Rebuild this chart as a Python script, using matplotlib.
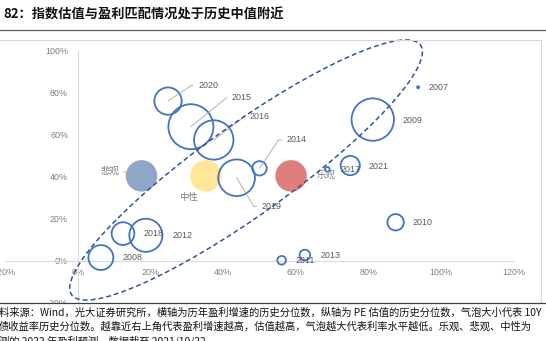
import matplotlib
matplotlib.use("Agg")
import matplotlib.pyplot as plt
from matplotlib.patches import Ellipse, Rectangle
from matplotlib.lines import Line2D
from matplotlib.transforms import IdentityTransform

plt.rcParams['font.family'] = ['Liberation Sans', 'Noto Sans CJK SC', 'DejaVu Sans']

# data (historical percentiles, %)
years = ['2007', '2008', '2009', '2010', '2011', '2012', '2013', '2014',
         '2015', '2016', '2017', '2018', '2019', '2020', '2021']
earn_pct = [93.7, 6.3, 81.2, 87.5, 56.1, 18.7, 62.5, 50.0,
            31.1, 37.4, 68.7, 12.4, 43.7, 24.8, 75.0]
pe_pct = [82.6, 1.5, 67.2, 18.3, 0.2, 12.1, 2.7, 44.0,
          63.8, 57.5, 43.5, 12.9, 39.5, 76.0, 45.3]
rate_pct = [0.2, 30, 87, 13, 3.6, 53, 5.5, 10,
            98, 75, 1, 25, 65, 36, 18]

scenarios = ['悲观', '中性', '乐观']
scen_x = [17.5, 35.2, 58.7]
scen_y = [40.4, 40.4, 40.4]
scen_size = [48, 48, 48]
scen_colors = ['#8FA6C8', '#FFE699', '#E07D7D']

xticks = [-20, 0, 20, 40, 60, 80, 100, 120]
yticks = [-20, 0, 20, 40, 60, 80, 100]

title = '82：指数估值与盈利匹配情况处于历史中值附近'
caption = ['料来源：Wind，光大证券研究所，横轴为历年盈利增速的历史分位数，纵轴为 PE 估值的历史分位数，气泡大小代表 10Y',
           '债收益率历史分位数。越靠近右上角代表盈利增速越高，估值越高，气泡越大代表利率水平越低。乐观、悲观、中性为',
           '测的 2022 年盈利预测，数据截至 2021/10/22']

W, H = 546, 341


def bubble_area(v):
    # bubble area proportional to value, largest bubble ~45px across
    return v / 98.0 * (2 * 22.5 * 0.72) ** 2


fig = plt.figure(figsize=(W / 100, H / 100), dpi=100)
ax = fig.add_axes([5.4 / W, 1 - 302.7 / H, 508.2 / W, 252 / H])
ax.set_xlim(-20, 120)
ax.set_ylim(-20, 100)

ax.spines['top'].set_visible(False)
ax.spines['right'].set_visible(False)
ax.spines['left'].set_position(('data', 0))
ax.spines['bottom'].set_position(('data', 0))
for s in ['left', 'bottom']:
    ax.spines[s].set_color('#d9d9d9')
    ax.spines[s].set_linewidth(0.8)
ax.set_xticks(xticks)
ax.set_xticklabels([f'{t}%' for t in xticks])
ax.set_yticks(yticks)
ax.set_yticklabels([f'{t}%' for t in yticks])
ax.tick_params(axis='both', length=0, labelsize=6.4, labelcolor='#7f7f7f')
ax.tick_params(axis='y', pad=7.2)
ax.tick_params(axis='x', pad=5)

# scenario bubbles (filled)
ax.scatter(scen_x, scen_y, s=[bubble_area(v) for v in scen_size],
           c=scen_colors, edgecolors='none', zorder=2, clip_on=False)
# historical bubbles (outline only)
ax.scatter(earn_pct, pe_pct, s=[bubble_area(v) for v in rate_pct],
           facecolors='none', edgecolors='#4472C4', linewidths=1.3, zorder=3, clip_on=False)

# label offsets in points; leader angle where Excel drew a leader line
offsets = {
    '2007': (7.7, 0), '2008': (15.3, 0), '2009': (21.7, -0.4), '2010': (12.5, -0.3),
    '2011': (10.3, 0), '2012': (18.9, 0), '2013': (11, -0.5), '2017': (9.1, 0),
    '2018': (15.1, -0.2), '2021': (13.5, -0.4),
    '2020': (21.6, 11.5), '2015': (29.5, 20.7), '2016': (26.1, 16.6),
    '2014': (19.6, 20.4), '2019': (18.0, -20.7),
}
leaders = {'2020': 34, '2015': 39, '2016': 37, '2014': 56, '2019': -59}

for name, x, y in zip(years, earn_pct, pe_pct):
    dx, dy = offsets[name]
    kw = {}
    if name in leaders:
        kw['arrowprops'] = dict(arrowstyle='-', color='#a6a6a6', lw=0.6,
                                shrinkA=1.5, shrinkB=0, relpos=(0, 0.5),
                                connectionstyle=f'angle,angleA=0,angleB={leaders[name]},rad=0')
    ax.annotate(name, xy=(x, y), xytext=(dx, dy), textcoords='offset points',
                ha='left', va='center', fontsize=6.4, color='#595959',
                zorder=5, annotation_clip=False, **kw)

cjk = ['Noto Sans CJK SC', 'DejaVu Sans']
ax.annotate(scenarios[0], xy=(scen_x[0], scen_y[0]), xytext=(-15.8, 3.5),
            textcoords='offset points', ha='right', va='center', fontsize=6.8,
            color='#7f7f7f', family=cjk, zorder=5,
            arrowprops=dict(arrowstyle='-', color='#a6a6a6', lw=0.6, shrinkA=1,
                            shrinkB=0, relpos=(1, 0.5)))
ax.annotate(scenarios[1], xy=(scen_x[1], scen_y[1]), xytext=(-12.1, -15.8),
            textcoords='offset points', ha='center', va='center', fontsize=6.8,
            color='#7f7f7f', family=cjk, zorder=5)
ax.annotate(scenarios[2], xy=(scen_x[2], scen_y[2]), xytext=(18.6, 0.6),
            textcoords='offset points', ha='left', va='center', fontsize=6.8,
            color='#7f7f7f', family=cjk, zorder=5)

# dashed ellipse, defined in pixels around a data centre
cx, cy = ax.transData.transform((46.3, 43.2))
ell = Ellipse((cx, cy), width=429, height=90, angle=35.6, fill=False,
              edgecolor='#2F5597', lw=1.1, linestyle=(0, (3.2, 2)),
              transform=IdentityTransform(), clip_on=False, zorder=6)
ax.add_artist(ell)

# title, rules, frame and caption
fig.text(3 / W, 1 - 15 / H, title, ha='left', va='center', fontsize=9.5,
         fontweight='bold', family=cjk, color='#111111')
fig.add_artist(Line2D([0, 1], [1 - 29.5 / H] * 2, color='#595959', lw=0.9))
fig.add_artist(Line2D([0, 541 / W], [1 - 40 / H] * 2, color='#d9d9d9', lw=0.8))
fig.add_artist(Line2D([541 / W] * 2, [1 - 40 / H, 1 - 303 / H], color='#d9d9d9', lw=0.8))
fig.add_artist(Rectangle((0, 0), 1, 1 - 303 / H, transform=fig.transFigure,
                         facecolor='white', edgecolor='none', zorder=10))
fig.add_artist(Line2D([0, 1], [1 - 303 / H] * 2, color='#404040', lw=0.9, zorder=11))
for i, line in enumerate(caption):
    fig.text(-1 / W, 1 - (313 + 14 * i) / H, line, ha='left', va='center',
             fontsize=7.4, family=cjk, color='#111111', zorder=12)

fig.savefig('out.png', dpi=100)
